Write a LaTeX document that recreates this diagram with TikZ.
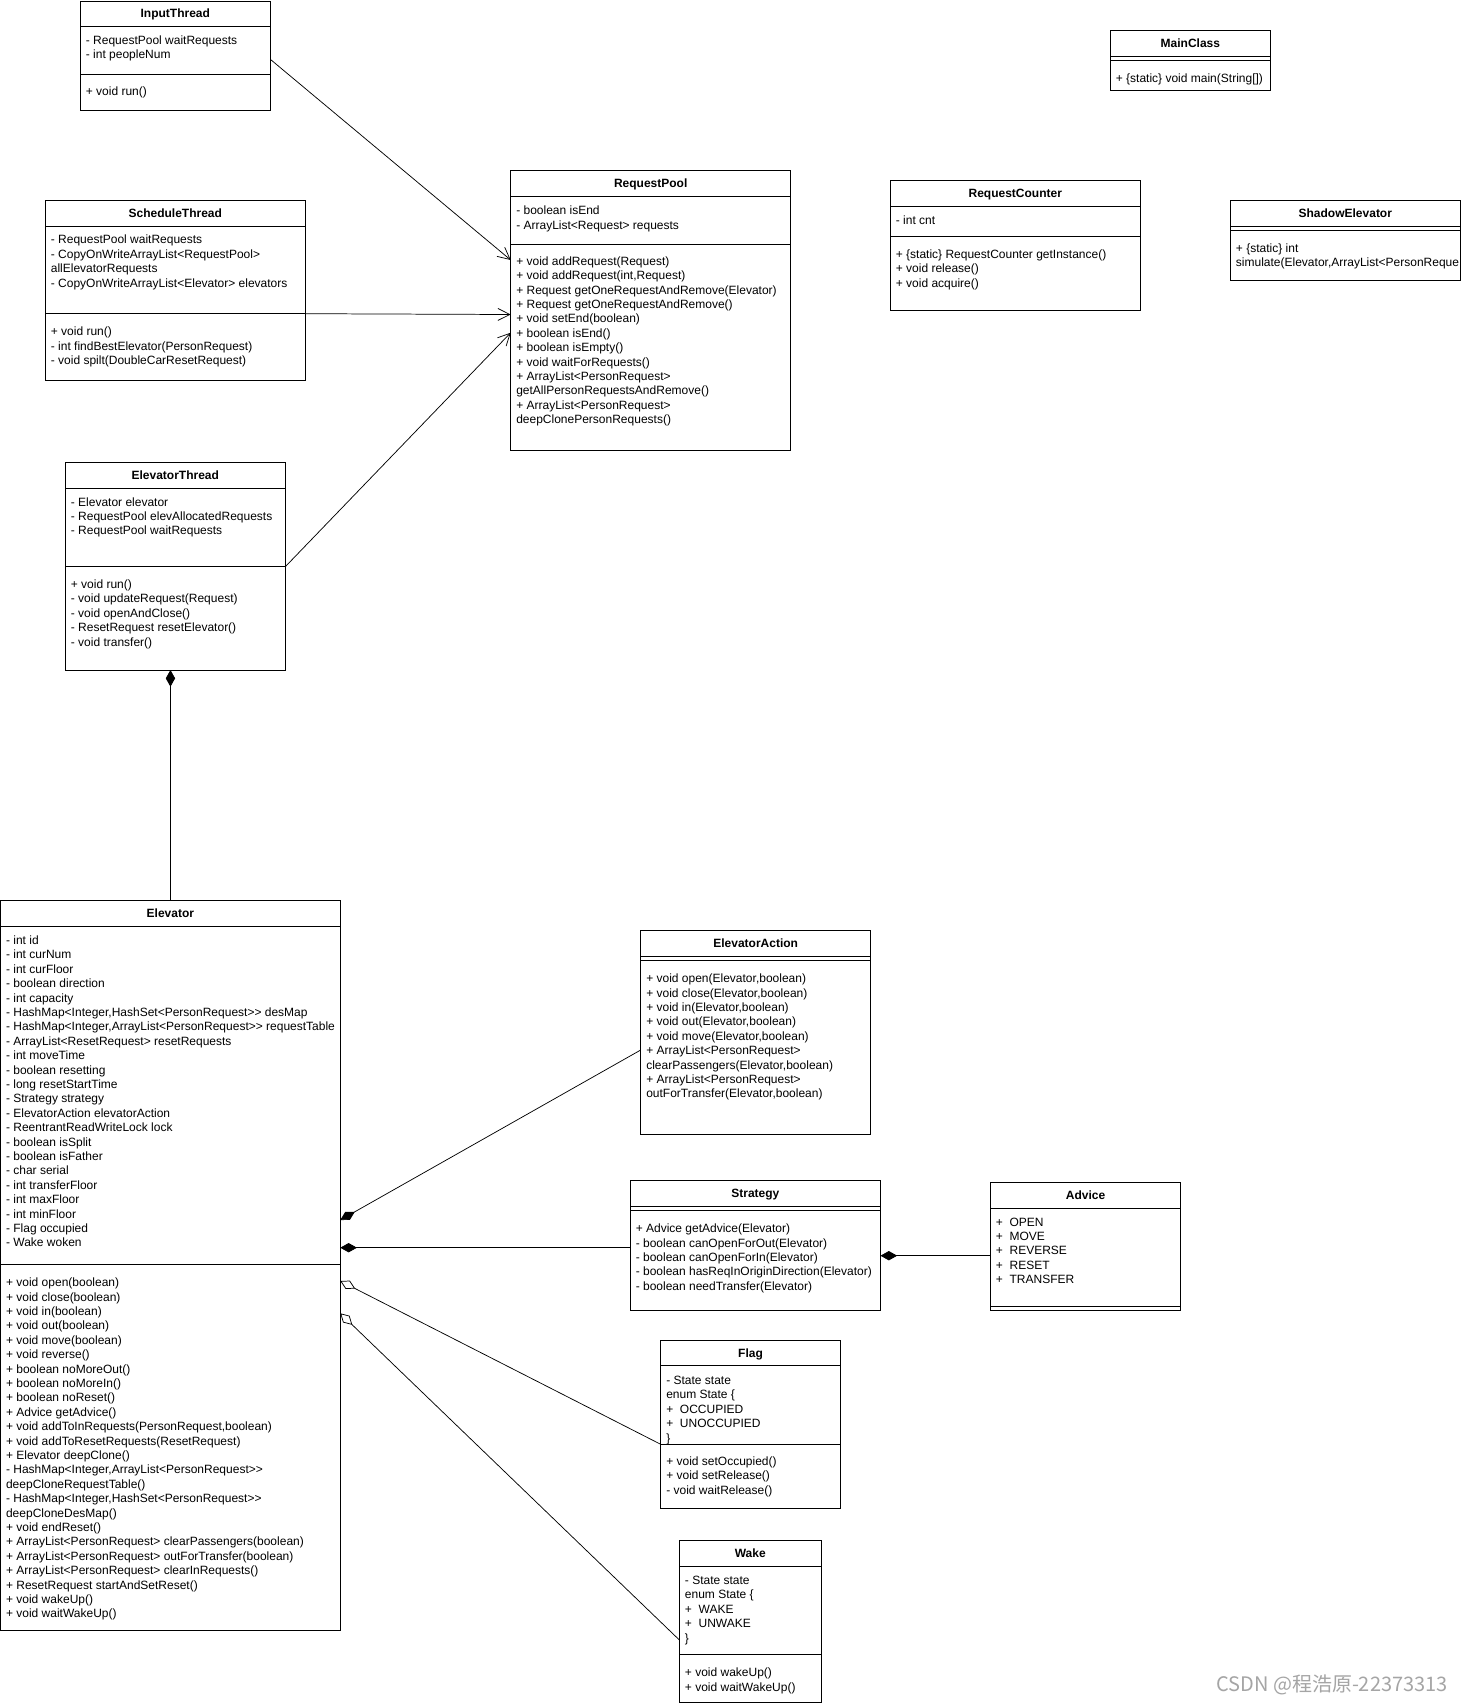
\documentclass[tikz,border=0pt]{standalone}
\usepackage{fontspec}
\newfontfamily\umlfont{Liberation Sans}
\newfontfamily\cjkfont{Noto Sans CJK SC}
\usetikzlibrary{arrows.meta,fit}
\definecolor{wmgray}{RGB}{165,165,165}
\tikzset{
  umlbox/.style={draw, line width=0.7pt, inner sep=0pt, outer sep=0pt},
  sepline/.style={line width=0.7pt},
  ctitle/.style={anchor=base, inner sep=0pt, font=\umlfont\fontsize{9pt}{10.8pt}\selectfont\bfseries},
  ctext/.style={anchor=north west, inner sep=0pt, align=left, font=\umlfont\fontsize{9pt}{10.8pt}\selectfont},
  assoc/.style={line width=0.55pt, -{Straight Barb[length=9pt,width=9pt,line width=0.55pt]}},
  comp/.style={line width=0.55pt, {Diamond[length=12.5pt,width=7pt]}-},
  aggr/.style={line width=0.55pt, {Diamond[open,length=12.5pt,width=7pt,fill=white]}-},
}
\begin{document}
\begin{tikzpicture}[x=0.75pt,y=-0.75pt]
\fill[white] (0,0) rectangle (1462,1706);
\useasboundingbox (0,0) rectangle (1462,1706);

% ---------------- InputThread
\node[umlbox, fit={(80.3,1) (270.3,110)}] (input) {};
\node[ctitle] (input-t) at (175.3,17.95) {InputThread};
\draw[sepline] (80.3,26.3) -- (270.3,26.3);
\draw[sepline] (80.3,74.3) -- (270.3,74.3);
\node[ctext] (input-a) at (85.6,33.9) {\strut - RequestPool waitRequests\\- int peopleNum};
\node[ctext] (input-m) at (85.6,85.6) {\strut + void run()};

% ---------------- ScheduleThread
\node[umlbox, fit={(45.3,200.3) (305.3,380)}] (sched) {};
\node[ctitle] (sched-t) at (175.3,217.6) {ScheduleThread};
\draw[sepline] (45.3,226.3) -- (305.3,226.3);
\draw[sepline] (45.3,313.7) -- (305.3,313.7);
\node[ctext] (sched-a) at (50.6,233.6) {\strut - RequestPool waitRequests\\- CopyOnWriteArrayList<RequestPool>\\allElevatorRequests\\- CopyOnWriteArrayList<Elevator> elevators};
\node[ctext] (sched-m) at (50.6,325.6) {\strut + void run()\\- int findBestElevator(PersonRequest)\\- void spilt(DoubleCarResetRequest)};

% ---------------- RequestPool
\node[umlbox, fit={(510.7,170) (790.7,450)}] (pool) {};
\node[ctitle] (pool-t) at (650.7,187.65) {RequestPool};
\draw[sepline] (510.7,196.7) -- (790.7,196.7);
\draw[sepline] (510.7,244.3) -- (790.7,244.3);
\node[ctext] (pool-a) at (516,204.3) {\strut - boolean isEnd\\- ArrayList<Request> requests};
\node[ctext] (pool-m) at (516,254.9) {\strut + void addRequest(Request)\\+ void addRequest(int,Request)\\+ Request getOneRequestAndRemove(Elevator)\\+ Request getOneRequestAndRemove()\\+ void setEnd(boolean)\\+ boolean isEnd()\\+ boolean isEmpty()\\+ void waitForRequests()\\+ ArrayList<PersonRequest>\\getAllPersonRequestsAndRemove()\\+ ArrayList<PersonRequest>\\deepClonePersonRequests()};

% ---------------- ElevatorThread
\node[umlbox, fit={(65.3,462.3) (285.3,670)}] (ethread) {};
\node[ctitle] (ethread-t) at (175.3,479.45) {ElevatorThread};
\draw[sepline] (65.3,488) -- (285.3,488);
\draw[sepline] (65.3,566.7) -- (285.3,566.7);
\node[ctext] (ethread-a) at (70.6,495.8) {\strut - Elevator elevator\\- RequestPool elevAllocatedRequests\\- RequestPool waitRequests};
\node[ctext] (ethread-m) at (70.6,578.1) {\strut + void run()\\- void updateRequest(Request)\\- void openAndClose()\\- ResetRequest resetElevator()\\- void transfer()};

% ---------------- Elevator
\node[umlbox, fit={(0.6,900) (340.3,1630)}] (elev) {};
\node[ctitle] (elev-t) at (170.4,917.3) {Elevator};
\draw[sepline] (0.6,926) -- (340.3,926);
\draw[sepline] (0.6,1264.3) -- (340.3,1264.3);
\node[ctext] (elev-a) at (5.8,934.1) {\strut - int id\\- int curNum\\- int curFloor\\- boolean direction\\- int capacity\\- HashMap<Integer,HashSet<PersonRequest>> desMap\\- HashMap<Integer,ArrayList<PersonRequest>> requestTable\\- ArrayList<ResetRequest> resetRequests\\- int moveTime\\- boolean resetting\\- long resetStartTime\\- Strategy strategy\\- ElevatorAction elevatorAction\\- ReentrantReadWriteLock lock\\- boolean isSplit\\- boolean isFather\\- char serial\\- int transferFloor\\- int maxFloor\\- int minFloor\\- Flag occupied\\- Wake woken};
\node[ctext] (elev-m) at (5.8,1276.4) {\strut + void open(boolean)\\+ void close(boolean)\\+ void in(boolean)\\+ void out(boolean)\\+ void move(boolean)\\+ void reverse()\\+ boolean noMoreOut()\\+ boolean noMoreIn()\\+ boolean noReset()\\+ Advice getAdvice()\\+ void addToInRequests(PersonRequest,boolean)\\+ void addToResetRequests(ResetRequest)\\+ Elevator deepClone()\\- HashMap<Integer,ArrayList<PersonRequest>>\\deepCloneRequestTable()\\- HashMap<Integer,HashSet<PersonRequest>>\\deepCloneDesMap()\\+ void endReset()\\+ ArrayList<PersonRequest> clearPassengers(boolean)\\+ ArrayList<PersonRequest> outForTransfer(boolean)\\+ ArrayList<PersonRequest> clearInRequests()\\+ ResetRequest startAndSetReset()\\+ void wakeUp()\\+ void waitWakeUp()};

% ---------------- ElevatorAction
\node[umlbox, fit={(640.7,930.3) (870.7,1134)}] (eaction) {};
\node[ctitle] (eaction-t) at (755.7,947.45) {ElevatorAction};
\draw[sepline] (640.7,956) -- (870.7,956);
\draw[sepline] (640.7,960.3) -- (870.7,960.3);
\node[ctext] (eaction-m) at (646,972.4) {\strut + void open(Elevator,boolean)\\+ void close(Elevator,boolean)\\+ void in(Elevator,boolean)\\+ void out(Elevator,boolean)\\+ void move(Elevator,boolean)\\+ ArrayList<PersonRequest>\\clearPassengers(Elevator,boolean)\\+ ArrayList<PersonRequest>\\outForTransfer(Elevator,boolean)};

% ---------------- Strategy
\node[umlbox, fit={(630.2,1180.7) (880.5,1310)}] (strategy) {};
\node[ctitle] (strategy-t) at (755.35,1197.8) {Strategy};
\draw[sepline] (630.2,1206.3) -- (880.5,1206.3);
\draw[sepline] (630.2,1210) -- (880.5,1210);
\node[ctext] (strategy-m) at (635.5,1222.4) {\strut + Advice getAdvice(Elevator)\\- boolean canOpenForOut(Elevator)\\- boolean canOpenForIn(Elevator)\\- boolean hasReqInOriginDirection(Elevator)\\- boolean needTransfer(Elevator)};

% ---------------- Advice
\node[umlbox, fit={(990.4,1182.3) (1180.6,1310)}] (advice) {};
\node[ctitle] (advice-t) at (1085.5,1199.6) {Advice};
\draw[sepline] (990.4,1208.3) -- (1180.6,1208.3);
\draw[sepline] (990.4,1306) -- (1180.6,1306);
\node[ctext] (advice-a) at (995.7,1215.8) {\strut +\ \ OPEN\\+\ \ MOVE\\+\ \ REVERSE\\+\ \ RESET\\+\ \ TRANSFER};

% ---------------- Flag
\node[umlbox, fit={(660.7,1340.3) (840.3,1508.3)}] (flag) {};
\node[ctitle] (flag-t) at (750.5,1357.3) {Flag};
\draw[sepline] (660.7,1365.7) -- (840.3,1365.7);
\node[ctext] (flag-a) at (666,1374.1) {\strut - State state\\enum State \{\\+\ \ OCCUPIED\\+\ \ UNOCCUPIED\\\}};
\draw[sepline] (660.7,1444.3) -- (840.3,1444.3);
\node[ctext] (flag-m) at (666,1455.2) {\strut + void setOccupied()\\+ void setRelease()\\- void waitRelease()};

% ---------------- Wake
\node[umlbox, fit={(679.4,1540) (821.1,1702)}] (wake) {};
\node[ctitle] (wake-t) at (750.25,1557.3) {Wake};
\draw[sepline] (679.4,1566) -- (821.1,1566);
\node[ctext] (wake-a) at (684.7,1574.1) {\strut - State state\\enum State \{\\+\ \ WAKE\\+\ \ UNWAKE\\\}};
\draw[sepline] (679.4,1654.3) -- (821.1,1654.3);
\node[ctext] (wake-m) at (684.7,1666.4) {\strut + void wakeUp()\\+ void waitWakeUp()};

% ---------------- MainClass
\node[umlbox, fit={(1110.3,30.3) (1270.4,90.3)}] (main) {};
\node[ctitle] (main-t) at (1190.35,47.6) {MainClass};
\draw[sepline] (1110.3,56.3) -- (1270.4,56.3);
\draw[sepline] (1110.3,60.7) -- (1270.4,60.7);
\node[ctext] (main-m) at (1115.6,71.8) {\strut + \{static\} void main(String[])};

% ---------------- RequestCounter
\node[umlbox, fit={(890.3,180.3) (1140.2,310.3)}] (counter) {};
\node[ctitle] (counter-t) at (1015.25,197.6) {RequestCounter};
\draw[sepline] (890.3,206.3) -- (1140.2,206.3);
\draw[sepline] (890.3,236.3) -- (1140.2,236.3);
\node[ctext] (counter-a) at (895.6,213.8) {\strut - int cnt};
\node[ctext] (counter-m) at (895.6,248.1) {\strut + \{static\} RequestCounter getInstance()\\+ void release()\\+ void acquire()};

% ---------------- ShadowElevator
\node[umlbox, fit={(1230.4,200.3) (1460.3,280.3)}] (shadow) {};
\node[ctitle] (shadow-t) at (1345.3,217.45) {ShadowElevator};
\draw[sepline] (1230.4,226) -- (1460.3,226);
\draw[sepline] (1230.4,230) -- (1460.3,230);
\begin{scope}
\clip (1231,231) rectangle (1459,279);
\node[ctext] (shadow-m) at (1235.7,241.8) {\strut + \{static\} int\\simulate(Elevator,ArrayList<PersonReque};
\end{scope}

% ---------------- connectors
\draw[assoc] (input.east |- 0,59.3) -- (pool.west |- 0,260);
\draw[assoc] (sched.east |- 0,313.7) -- (pool.west |- 0,314.5);
\draw[assoc] (ethread.east |- 0,566.7) -- (pool.west |- 0,332.7);
\draw[comp] (ethread.south -| elev.north) -- (elev.north);
\draw[comp] (elev.east |- 0,1220) -- (eaction.west |- 0,1050);
\draw[comp] (elev.east |- 0,1247.7) -- (strategy.west |- 0,1247.7);
\draw[aggr] (elev.east |- 0,1281) -- (flag.west |- 0,1444.3);
\draw[aggr] (elev.east |- 0,1313.3) -- (wake.west |- 0,1640);
\draw[comp] (strategy.east |- 0,1255.7) -- (advice.west |- 0,1255.7);

% ---------------- watermark
\node[anchor=base east, inner sep=0pt, text=wmgray, font=\cjkfont\fontsize{15pt}{18pt}\selectfont] (wm) at (1448,1691) {CSDN @程浩原-22373313};
\end{tikzpicture}
\end{document}
